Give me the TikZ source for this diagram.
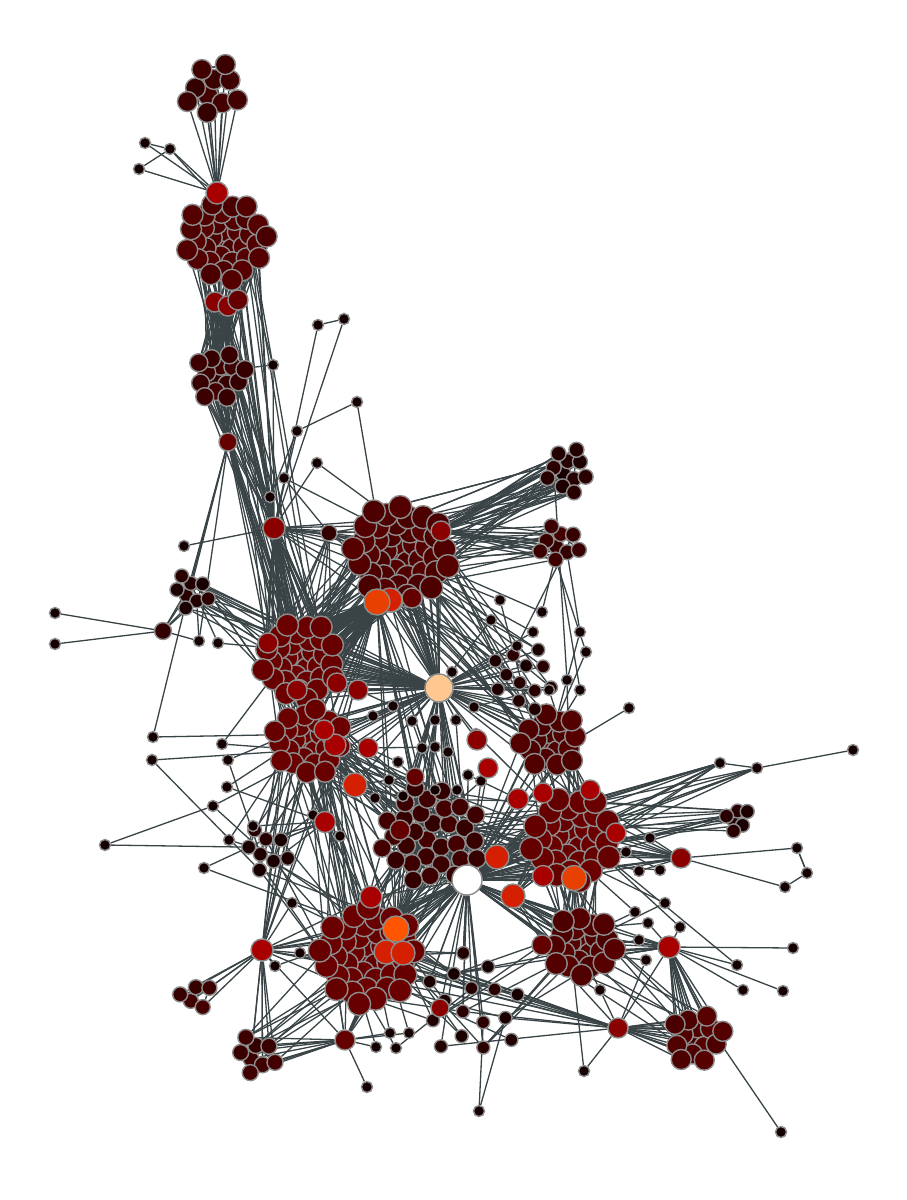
\documentclass[tikz,border=0pt]{standalone}
\usetikzlibrary{calc}
\pgfdeclarelayer{bg}
\pgfsetlayers{bg,main}
\definecolor{edgegrey}{HTML}{3A4446}
\definecolor{rim}{HTML}{8C8C8C}
\definecolor{heat0}{HTML}{140000}
\definecolor{heat1}{HTML}{330000}
\definecolor{heat2}{HTML}{4A0000}
\definecolor{heat3}{HTML}{650000}
\definecolor{heat4}{HTML}{8A0000}
\definecolor{heat5}{HTML}{A80000}
\definecolor{heat6}{HTML}{D42000}
\definecolor{heat7}{HTML}{E84000}
\definecolor{heat8}{HTML}{FF5500}
\definecolor{heat9}{HTML}{FFC890}
\tikzset{vtx/.style={circle,draw=rim,line width=0.4pt,inner sep=0pt,minimum size=#1},
vtx/.default=0.2cm}
\tikzset{sm/.style={vtx=0.11cm,fill=heat0}}
\tikzset{lnk/.style={draw=edgegrey,line width=0.37pt}}
\newcommand\linkset[5]{\foreach \k in {1,...,#5}{%
  \pgfmathrandominteger{\ia}{1}{#2}\pgfmathrandominteger{\ib}{1}{#4}%
  \draw[lnk] (#1\ia) -- (#3\ib);}}
\newcommand\fanout[4]{\foreach \k in {1,...,#4}{%
  \pgfmathrandominteger{\ib}{1}{#3}\draw[lnk] (#1) -- (#2\ib);}}
\newcommand\fanall[3]{\foreach \k in {1,...,#3}{\draw[lnk] (#1) -- (#2\k);}}
\def\smalllist{145/143/{h1,s2},170/149/{h1,B10},139/169/{h1,s2},273/365/{B5,C4,h3},
318/325/{s6,h3},344/319/{h3},357/402/{s8,D20},297/431/{h3,s11},317/463/{D10,h3},
284/478/{h4,D5},270/497/{h3,C6},184/546/{h3},55/613/{h22},55/644/{h22},
199/641/{h22,G3,h2},218/643/{H5,G2},500/600/{D3,J4},491/620/{D8,pe},542/612/{D12,F2},
533/632/{D4,pe},517/646/{pe,F5},580/632/{F3,J6},586/652/{F6,J2},567/680/{E4,J8},
580/690/{J1,F1},549/690/{pe,J5},629/708/{J3},720/763/{K5,K12,K20,K1},757/768/{s28,K20,K9},
853/750/{s29},797/848/{h21,s33},785/887/{h21,s33},807/873/{s31},793/948/{h20},
737/965/{h20,K8},743/990/{h20},783/991/{h20},781/1132/{O5},584/1071/{M4,h19},
479/1111/{T3,T8},367/1087/{h18},105/845/{U4,s48},204/868/{U2,L10},153/737/{G2,I5},
152/760/{I8,U6},222/744/{I3,H4},228/760/{I10,U1},213/806/{U3,I6},227/787/{h23,I2},
292/903/{L5,h17},300/953/{h17,L11},275/966/{h17,L7},390/1033/{L3,h18},409/1033/{L8,h18},
376/1047/{h18,L12},396/1048/{L9,T2},626/852/{K4,h21},639/871/{K9,h21},660/870/{K14,s57},
650/838/{K3,R2},665/903/{M5,K6},648/923/{M7,h20},680/927/{h20,K2},635/912/{M2,K11},
639/940/{M9,h20},646/960/{h19,M3},600/990/{h19,M1},452/672/{pe,D22},474/707/{pe,V3},
373/716/{I12,pe},393/706/{pe,h26},412/721/{pe,N5},435/720/{pe,N9},456/720/{pe,wh},
422/748/{N3,pe},435/747/{N7,h16},448/752/{wh,pe},476/734/{pe,K7},468/775/{wh,h25},
481/781/{wh,N2},457/790/{N8,pe},435/790/{wh,h27},375/798/{h14,N11},389/780/{h14,h27},
403/796/{N4,pe},398/762/{h16,N13},340/836/{h23,L2},313/815/{h23,U5},253/826/{U4,h23},
229/840/{U8,I9}}

\begin{document}
\begin{tikzpicture}[x=0.01cm,y=-0.01cm]
\useasboundingbox (0,0) rectangle (907,1200);
\pgfmathsetseed{42}

\foreach \cl/\cx/\cy/\rad/\cnt/\col/\dm in {A/213/91/30/10/heat1/0.2,
  B/225/240/42/34/heat2/0.21, C/220/375/27/14/heat1/0.18, D/400/553/50/42/heat2/0.23,
  E/567/470/24/11/heat0/0.15, F/560/543/22/9/heat1/0.15, G/190/592/20/8/heat0/0.14,
  H/300/660/40/32/heat3/0.22, I/308/742/36/26/heat3/0.21, J/550/742/31/18/heat2/0.21,
  K/572/838/44/32/heat3/0.23, L/368/955/50/40/heat3/0.23, M/583/945/33/22/heat2/0.22,
  N/432/835/52/30/heat1/0.18, O/697/1037/28/14/heat2/0.2, P/195/997/18/5/heat1/0.15,
  Q/255/1055/22/8/heat1/0.16, R/737/818/14/6/heat0/0.14, T/470/1005/55/16/heat0/0.13,
  U/265/850/25/8/heat0/0.14, V/525/678/35/12/heat0/0.13}{
  \foreach \i in {1,...,\cnt}{
    \pgfmathsetmacro\rr{\rad*sqrt((\i-0.5)/\cnt)}
    \pgfmathsetmacro\px{\cx+\rr*cos(137.508*\i)}
    \pgfmathsetmacro\py{\cy+\rr*sin(137.508*\i)}
    \pgfmathrandominteger{\mx}{80}{100}
    \node[vtx=\dm cm,fill=\col!\mx!heat4] (\cl\i) at (\px,\py) {};
  }
}

\foreach \x/\y/\t [count=\k] in \smalllist {\node[sm] (s\k) at (\x,\y) {};}

\foreach \nm/\x/\y/\col/\dm in {h1/217/193/heat5/0.22, h2/228/442/heat3/0.18,
  h3/274/528/heat4/0.22, h4/329/533/heat1/0.16, h6/390/600/heat6/0.24,
  h5/377/602/heat7/0.26, h7/441/531/heat4/0.2, h30/215/302/heat4/0.2,
  h31/228/306/heat4/0.2, h32/238/300/heat3/0.2, h33/412/598/heat3/0.2,
  h12/386/952/heat6/0.24, h13/403/953/heat6/0.24, h11/396/929/heat8/0.26,
  h8/497/857/heat6/0.24, h9/513/896/heat6/0.24, h10/574/878/heat7/0.25,
  h14/355/785/heat6/0.24, h15/335/745/heat5/0.22, h16/368/748/heat5/0.2,
  h17/262/950/heat5/0.22, h18/345/1040/heat3/0.2, h19/618/1028/heat4/0.2,
  h20/669/947/heat5/0.22, h21/681/858/heat4/0.2, h22/163/631/heat1/0.17,
  h23/325/822/heat5/0.21, h24/371/897/heat5/0.22, h25/518/799/heat5/0.21,
  h26/358/690/heat4/0.2, h27/415/777/heat3/0.18, h28/488/768/heat5/0.2,
  h29/543/793/heat5/0.2, h34/297/690/heat4/0.2, h35/400/830/heat3/0.2,
  h36/477/740/heat4/0.2, h37/590/790/heat5/0.2, h38/616/833/heat5/0.2,
  h39/543/876/heat5/0.21, h40/542/945/heat3/0.2, h41/440/1008/heat4/0.18,
  h42/337/683/heat4/0.2, h43/324/730/heat5/0.2, h44/268/643/heat4/0.2,
  pe/439/688/heat9/0.28, wh/467/880/white/0.3}{
  \node[vtx=\dm cm,fill=\col] (\nm) at (\x,\y) {};
}

\begin{pgfonlayer}{bg}
\fill[white] (0,0) rectangle (907,1200);
\foreach \x/\y/\t [count=\k] in \smalllist {\foreach \u in \t {\draw[lnk] (s\k) -- (\u);}}
\fanall{h1}{A}{10} \linkset{A}{10}{A}{10}{22}
\fanall{h1}{B}{34} \linkset{B}{34}{B}{34}{40}
\linkset{B}{34}{C}{14}{30} \fanall{h30}{C}{14} \fanall{h31}{C}{14}
\fanall{h2}{C}{14} \linkset{C}{14}{C}{14}{20}
\linkset{C}{14}{H}{32}{14} \linkset{B}{34}{H}{32}{10}
\fanout{h3}{B}{34}{8} \fanout{h3}{C}{14}{8} \fanall{h3}{H}{32}
\fanout{h3}{D}{42}{10} \fanout{h2}{H}{32}{6} \fanout{h2}{G}{8}{3}
\linkset{D}{42}{D}{42}{60} \linkset{D}{42}{H}{32}{50}
\fanall{h5}{H}{32} \fanout{h6}{H}{32}{15} \fanout{h5}{I}{26}{15} \fanout{h5}{N}{30}{10}
\fanout{h4}{D}{42}{8} \fanout{h4}{H}{32}{6}
\linkset{D}{42}{E}{11}{25} \linkset{D}{42}{F}{9}{15}
\fanall{h7}{E}{11} \fanall{h7}{F}{9}
\linkset{E}{11}{E}{11}{18} \linkset{F}{9}{F}{9}{12}
\linkset{D}{42}{V}{12}{15} \linkset{D}{42}{J}{18}{12}
\fanout{pe}{D}{42}{25} \fanall{pe}{H}{32} \fanall{pe}{V}{12}
\fanout{pe}{J}{18}{10} \fanout{pe}{N}{30}{15} \fanout{pe}{I}{26}{12}
\linkset{H}{32}{I}{26}{30} \linkset{H}{32}{H}{32}{40}
\linkset{G}{8}{H}{32}{18} \linkset{G}{8}{G}{8}{12} \fanout{h22}{G}{8}{4}
\linkset{I}{26}{I}{26}{30} \linkset{I}{26}{N}{30}{25}
\linkset{I}{26}{L}{40}{25} \linkset{I}{26}{U}{8}{10}
\linkset{N}{30}{N}{30}{35} \linkset{N}{30}{K}{32}{25} \linkset{N}{30}{L}{40}{30}
\fanall{wh}{N}{30} \fanall{wh}{K}{32} \fanout{wh}{L}{40}{20}
\fanout{wh}{M}{22}{15} \fanout{wh}{J}{18}{10} \fanout{wh}{T}{16}{12}
\linkset{K}{32}{K}{32}{35} \linkset{J}{18}{J}{18}{20}
\linkset{K}{32}{J}{18}{20} \linkset{K}{32}{M}{22}{20}
\fanout{h21}{K}{32}{15} \fanout{s28}{K}{32}{6} \fanout{s29}{K}{32}{4}
\linkset{K}{32}{R}{6}{12} \linkset{R}{6}{R}{6}{10}
\fanout{h20}{M}{22}{12} \fanall{h20}{O}{14} \fanall{h19}{O}{14}
\linkset{O}{14}{O}{14}{18} \linkset{M}{22}{M}{22}{25} \linkset{M}{22}{O}{14}{8}
\linkset{L}{40}{L}{40}{50} \linkset{L}{40}{T}{16}{20} \linkset{L}{40}{Q}{8}{10}
\fanall{h18}{Q}{8} \fanall{h17}{P}{5} \fanout{h17}{Q}{8}{6}
\fanout{h17}{I}{26}{8} \fanout{h17}{L}{40}{8}
\linkset{P}{5}{P}{5}{6} \linkset{Q}{8}{Q}{8}{10}
\fanout{h18}{L}{40}{10} \fanout{h19}{L}{40}{6} \fanout{h19}{T}{16}{5}
\linkset{U}{8}{L}{40}{8} \linkset{T}{16}{M}{22}{10}
\fanout{h11}{L}{40}{20} \fanout{h11}{N}{30}{10}
\fanout{h14}{I}{26}{10} \fanout{h14}{N}{30}{8}
\fanout{h10}{K}{32}{20} \fanout{h10}{M}{22}{10}
\fanout{h8}{N}{30}{10} \fanout{h8}{K}{32}{10}
\fanout{h9}{M}{22}{10} \fanout{h9}{K}{32}{8}
\fanout{h23}{I}{26}{6} \fanout{h23}{U}{8}{4}
\foreach \a/\b in {h5/pe, h5/wh, pe/wh, h11/wh, h10/wh, h8/wh, h9/wh, h14/pe,
  h16/pe, h26/pe, h3/h5, h2/h3, h1/h30, h30/h2, h31/h2, h7/pe, h10/h21, h20/h19,
  h17/h18, h18/h12, h12/wh, h13/wh, h24/wh, h35/wh, h25/wh, h28/wh, h29/h10,
  h36/pe, h37/wh, h38/h21, h39/wh, h40/h19, h41/wh, h42/pe, h43/h5, h44/h3,
  h34/pe, h15/wh, h33/pe, h6/wh, h32/h3, h4/h3, h11/h17, h24/h17}{
  \draw[lnk] (\a) -- (\b);
}
\end{pgfonlayer}
\end{tikzpicture}
\end{document}
